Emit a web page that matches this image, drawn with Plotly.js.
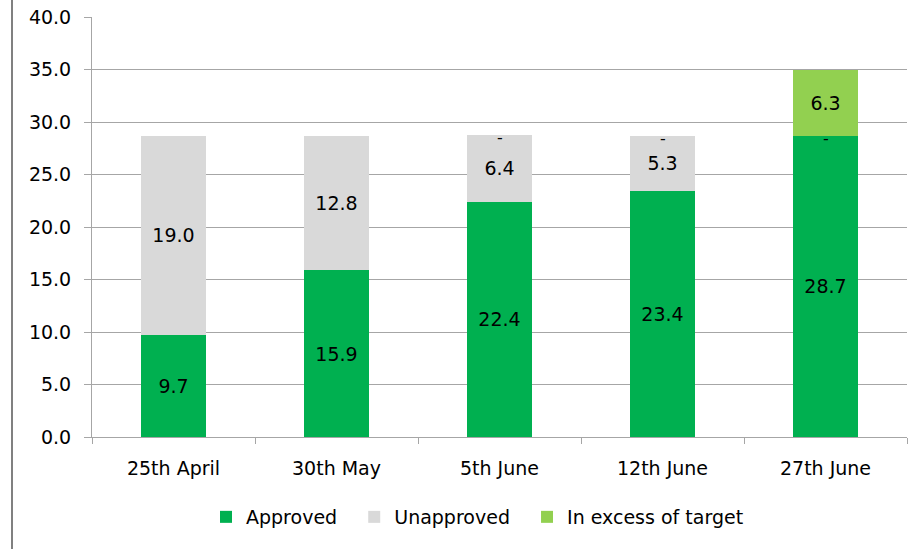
<!DOCTYPE html>
<html>
<head>
<meta charset="utf-8">
<script src="https://cdn.plot.ly/plotly-3.0.1.min.js"></script>
<style>html,body{margin:0;padding:0;background:#fff;}#chart{width:915px;height:549px;}</style>
</head>
<body>
<div id="chart"></div>
<script>
const categories = ["25th April", "30th May", "5th June", "12th June", "27th June"];
const approved = [9.7, 15.9, 22.4, 23.4, 28.7];
const unapproved = [19.0, 12.8, 6.4, 5.3, 0];
const excess = [null, null, 0, 0, 6.3];
const seriesNames = ["Approved", "Unapproved", "In excess of target"];
const seriesColors = ["#00B050", "#D9D9D9", "#92D050"];
const yTicks = [0, 5, 10, 15, 20, 25, 30, 35, 40];

const FONT = "DejaVu Sans, Liberation Sans, sans-serif";
const FS = 19;
const seriesData = [approved, unapproved, excess];
const PAD = "\u00a0\u00a0";

const traces = seriesData.map((vals, i) => ({
  type: "bar",
  name: i < seriesNames.length - 1 ? seriesNames[i] + PAD : seriesNames[i],
  x: categories,
  y: vals,
  marker: {color: seriesColors[i]},
  text: vals.map(v => (v === null || v === 0) ? "" : v.toFixed(1)),
  textposition: "inside",
  insidetextanchor: "middle",
  textfont: {family: FONT, size: FS, color: "#000"},
  hoverinfo: "x+y"
}));

// dash labels for zero-valued segments, placed at the stack height
const dashAnnotations = [];
categories.forEach((c, j) => {
  let cum = 0;
  seriesData.forEach(vals => {
    const v = vals[j];
    if (v === null) return;
    cum += v;
    if (v === 0) {
      dashAnnotations.push({
        x: c, y: cum, xref: "x", yref: "y", text: "-", showarrow: false,
        yshift: -3, font: {family: FONT, size: 16, color: "#000"}
      });
    }
  });
});

const layout = {
  width: 915, height: 549,
  margin: {l: 92, r: 8, t: 17, b: 112, autoexpand: false},
  barmode: "stack",
  bargap: 0.6,
  paper_bgcolor: "#fff", plot_bgcolor: "#fff",
  font: {family: FONT, size: FS, color: "#000"},
  xaxis: {
    showline: true, linecolor: "#A6A6A6", linewidth: 1,
    ticks: "outside", ticklen: 6, tickcolor: "#A6A6A6",
    tickson: "boundaries",
    ticklabelstandoff: 14,
    tickfont: {family: FONT, size: FS, color: "#000"},
    fixedrange: true, automargin: false
  },
  yaxis: {
    range: [0, 40], tickvals: yTicks, ticktext: yTicks.map(v => v.toFixed(1)),
    showgrid: true, gridcolor: "#A6A6A6", gridwidth: 1,
    showline: true, linecolor: "#A6A6A6", linewidth: 1,
    ticks: "outside", ticklen: 7, tickcolor: "#A6A6A6",
    ticklabelstandoff: 9,
    tickfont: {family: FONT, size: FS, color: "#000"},
    zeroline: false, fixedrange: true, automargin: false
  },
  legend: {
    orientation: "h", x: 206 / 915, xref: "container", xanchor: "left",
    y: 1 - 517 / 549, yref: "container", yanchor: "middle",
    font: {family: FONT, size: FS, color: "#000"},
    itemwidth: 30, traceorder: "normal"
  },
  annotations: dashAnnotations,
  shapes: [{
    type: "line", xref: "paper", yref: "paper",
    x0: (12 - 92) / 815, x1: (12 - 92) / 815, y0: -112 / 420, y1: 17 / 420 + 1,
    line: {color: "#808080", width: 2}
  }]
};

Plotly.newPlot("chart", traces, layout, {displayModeBar: false, staticPlot: true});
</script>
</body>
</html>
